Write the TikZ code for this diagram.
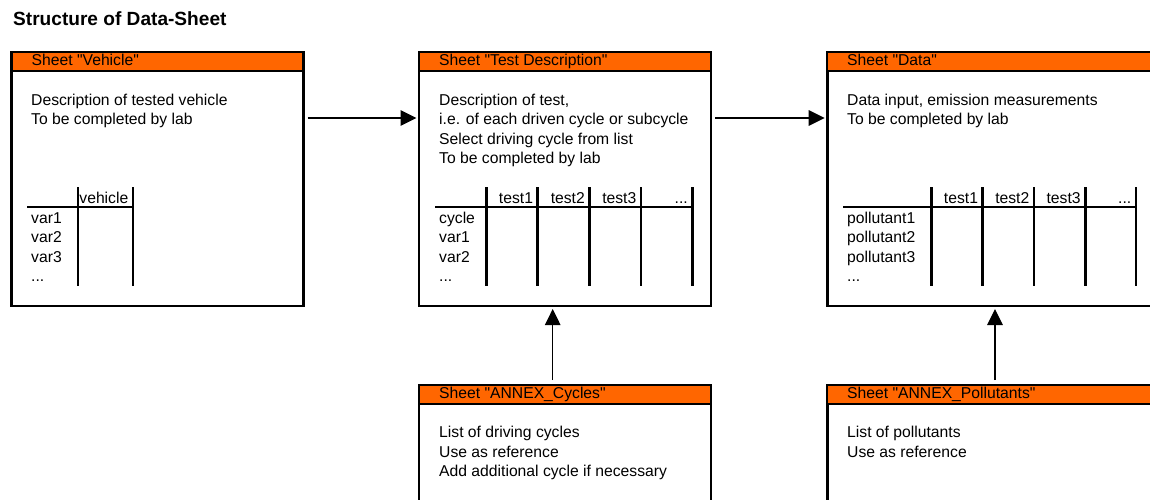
\documentclass[tikz,border=0pt]{standalone}
\usepackage{fontspec}
\setmainfont{Liberation Sans}[Ligatures=TeXOff]
\usetikzlibrary{arrows.meta}
\definecolor{sheetorange}{HTML}{FF6600}
\begin{document}
\begin{tikzpicture}[x=1pt,y=-1pt,
  sheetbox/.style={draw, line width=2.5pt, rectangle, inner sep=0pt, anchor=north west, minimum height=254pt},
  headbar/.style={draw, fill=sheetorange, line width=2.2pt, rectangle, inner sep=0pt, anchor=north west, minimum height=19.5pt},
  txt/.style={inner sep=0pt, anchor=base west, font=\fontsize{15.7}{19.5}\selectfont},
  colhead/.style={inner sep=0pt, anchor=base east, font=\fontsize{15.7}{19.5}\selectfont},
  vline/.style={line width=2.5pt},
  hline/.style={line width=1.8pt},
  arr/.style={line width=1.2pt, -{Triangle[length=16pt,width=15.5pt]}},
]
\useasboundingbox (0,0) rectangle (1150,499);
\clip (0,0) rectangle (1150,499);

% title
\node[inner sep=0pt, anchor=base west, font=\fontsize{19.1}{23}\selectfont\bfseries] (title) at (13,25) {Structure of Data-Sheet};

% ---------- boxes ----------
\node[sheetbox, minimum width=292pt] (veh) at (10.3,50.5) {};
\node[headbar, minimum width=292pt] (vehH) at (veh.north west) {};
\node[sheetbox, minimum width=292pt] (td) at (417.7,50.5) {};
\node[headbar, minimum width=292pt] (tdH) at (td.north west) {};
\node[sheetbox, minimum width=340pt] (dat) at (826,50.5) {};
\node[headbar, minimum width=340pt] (datH) at (dat.north west) {};
\node[sheetbox, minimum width=292pt] (cyc) at (417.7,383.7) {};
\node[headbar, minimum width=292pt] (cycH) at (cyc.north west) {};
\node[sheetbox, minimum width=340pt] (pol) at (826,383.7) {};
\node[headbar, minimum width=340pt] (polH) at (pol.north west) {};

% ---------- header texts ----------
\node[txt] (vehHt) at (31.5,65.8) {Sheet "Vehicle"};
\node[txt] (tdHt) at (439,65.8) {Sheet "Test Description"};
\node[txt] (datHt) at (847,65.8) {Sheet "Data"};
\node[txt] (cycHt) at (439,398.3) {Sheet "ANNEX\_Cycles"};
\node[txt] (polHt) at (847,398.3) {Sheet "ANNEX\_Pollutants"};

% ---------- body texts ----------
\node[txt] (vehB1) at (31,105.3) {Description of tested vehicle};
\node[txt] (vehB2) at (31,124.8) {To be completed by lab};
\node[txt] (tdB1) at (439,105.3) {Description of test,};
\node[txt] (tdB2) at (439,124.8) {i.e. of each driven cycle or subcycle};
\node[txt] (tdB3) at (439,144.3) {Select driving cycle from list};
\node[txt] (tdB4) at (439,163.8) {To be completed by lab};
\node[txt] (datB1) at (847,105.3) {Data input, emission measurements};
\node[txt] (datB2) at (847,124.8) {To be completed by lab};
\node[txt] (cycB1) at (439,437.7) {List of driving cycles};
\node[txt] (cycB2) at (439,457.2) {Use as reference};
\node[txt] (cycB3) at (439,476.7) {Add additional cycle if necessary};
\node[txt] (polB1) at (847,437.7) {List of pollutants};
\node[txt] (polB2) at (847,457.2) {Use as reference};

% ---------- table: Vehicle ----------
\draw[hline] (27,206.7) -- (133,206.7);
\draw[vline] (78,187) -- (78,286);
\draw[vline] (133,187) -- (133,286);
\node[colhead] (vehC1) at (128.5,203.3) {vehicle};
\node[txt] (vehR1) at (31,223.3) {var1};
\node[txt] (vehR2) at (31,242.8) {var2};
\node[txt] (vehR3) at (31,262.3) {var3};
\node[txt] (vehR4) at (31,281.8) {...};

% ---------- table: Test Description ----------
\draw[hline] (435,206.7) -- (692.3,206.7);
\draw[vline] (486.7,187) -- (486.7,286);
\draw[vline] (537.7,187) -- (537.7,286);
\draw[vline] (589.3,187) -- (589.3,286);
\draw[vline] (641,187) -- (641,286);
\draw[vline] (692.3,187) -- (692.3,286);
\node[colhead] (tdC1) at (533.2,203.3) {test1};
\node[colhead] (tdC2) at (585,203.3) {test2};
\node[colhead] (tdC3) at (636.5,203.3) {test3};
\node[colhead] (tdC4) at (688,203.3) {...};
\node[txt] (tdR1) at (439,223.3) {cycle};
\node[txt] (tdR2) at (439,242.8) {var1};
\node[txt] (tdR3) at (439,262.3) {var2};
\node[txt] (tdR4) at (439,281.8) {...};

% ---------- table: Data ----------
\draw[hline] (843,206.7) -- (1136,206.7);
\draw[vline] (931.7,187) -- (931.7,286);
\draw[vline] (982.7,187) -- (982.7,286);
\draw[vline] (1034,187) -- (1034,286);
\draw[vline] (1085.3,187) -- (1085.3,286);
\draw[vline] (1136,187) -- (1136,286);
\node[colhead] (datC1) at (978.2,203.3) {test1};
\node[colhead] (datC2) at (1029.5,203.3) {test2};
\node[colhead] (datC3) at (1080.8,203.3) {test3};
\node[colhead] (datC4) at (1131.5,203.3) {...};
\node[txt] (datR1) at (847,223.3) {pollutant1};
\node[txt] (datR2) at (847,242.8) {pollutant2};
\node[txt] (datR3) at (847,262.3) {pollutant3};
\node[txt] (datR4) at (847,281.8) {...};

% ---------- connectors ----------
\draw[arr] ([xshift=2.7pt,yshift=-67.5pt]veh.north east) -- ([xshift=-1.2pt,yshift=-67.5pt]td.north west);
\draw[arr] ([xshift=3pt,yshift=-67.5pt]td.north east) -- ([xshift=-1.3pt,yshift=-67.5pt]dat.north west);
\draw[arr] ([xshift=135pt,yshift=3.7pt]cyc.north west) -- ([xshift=135pt,yshift=-2pt]td.south west);
\draw[arr] ([xshift=169pt,yshift=3.7pt]pol.north west) -- ([xshift=169pt,yshift=-2pt]dat.south west);
\end{tikzpicture}
\end{document}
